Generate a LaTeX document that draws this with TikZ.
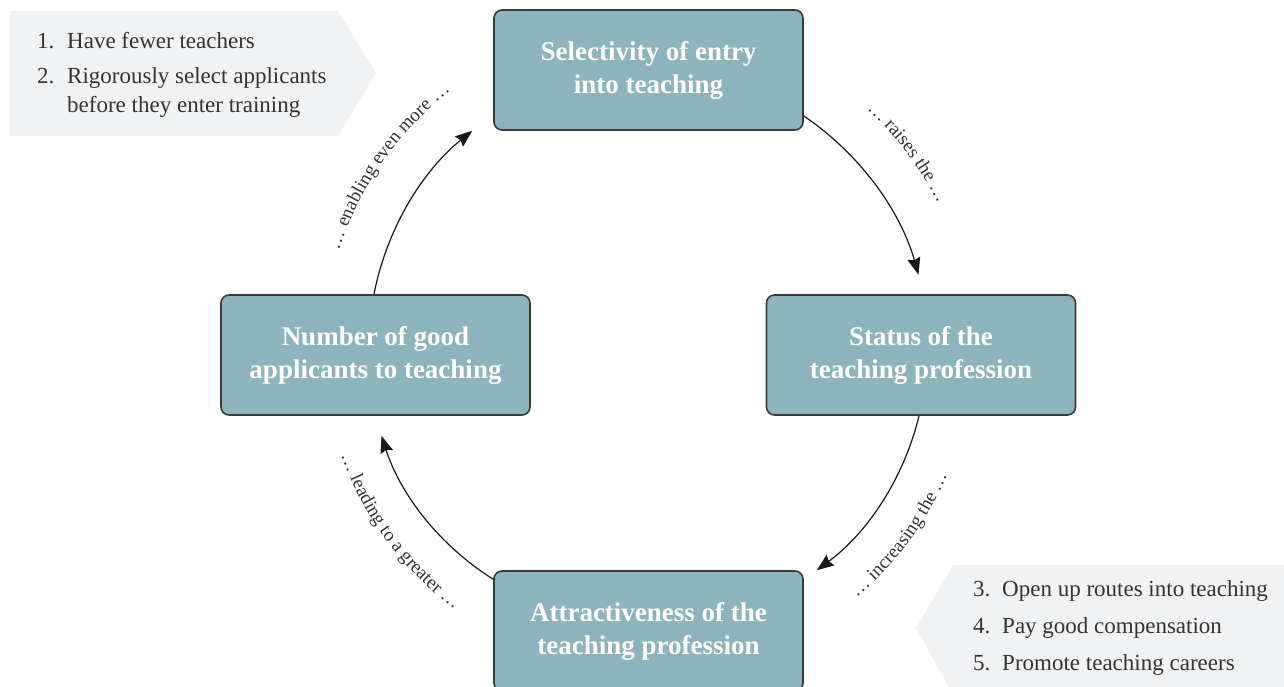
\documentclass[tikz,border=0pt]{standalone}
\usepackage{fontspec}
\setmainfont{Liberation Serif}
\usetikzlibrary{arrows.meta,decorations.text}
\definecolor{boxfill}{HTML}{8DB3BC}
\definecolor{boxline}{HTML}{3A3A3A}
\definecolor{calloutfill}{HTML}{F1F2F4}
\definecolor{txt}{HTML}{333333}
\newcommand\arclabelfont{\fontsize{19}{21}\selectfont}
\begin{document}
\begin{tikzpicture}[x=1pt,y=1pt,
  stagebox/.style={draw=boxline, line width=1.6pt, fill=boxfill, rounded corners=8pt,
    minimum width=309pt, minimum height=120pt, text=white, align=center,
    font=\fontsize{27}{33}\selectfont\bfseries, inner sep=0pt},
  conn/.style={line width=1.2pt, draw=black!90, bend left=20, looseness=0.88,
    -{Stealth[length=17pt,width=13pt,inset=2pt]}},
  calloutshape/.style={fill=calloutfill, draw=none},
  itemtext/.style={anchor=base west, inner sep=0pt, text=txt, font=\fontsize{23}{26}\selectfont},
  arclabel/.style={decorate, decoration={text along path, text align=center, text color=txt}}
]
\useasboundingbox (0,0) rectangle (1284,-687);

% callouts
\path[calloutshape] (10,-11) -- (338,-11) -- (376,-73) -- (338,-136) -- (10,-136) -- cycle;
\path[calloutshape] (953,-565) -- (1290,-565) -- (1290,-695) -- (953,-695) -- (916,-628) -- cycle;

\node[itemtext] (n1) at (37,-49) {1.};
\node[itemtext] (t1) at (67,-49) {Have fewer teachers};
\node[itemtext] (n2) at (37,-84) {2.};
\node[itemtext] (t2) at (67,-84) {Rigorously select applicants};
\node[itemtext] (t2b) at (67,-113) {before they enter training};

\node[itemtext] (n3) at (973,-596) {3.};
\node[itemtext] (t3) at (1002,-596) {Open up routes into teaching};
\node[itemtext] (n4) at (973,-633) {4.};
\node[itemtext] (t4) at (1002,-633) {Pay good compensation};
\node[itemtext] (n5) at (973,-670) {5.};
\node[itemtext] (t5) at (1002,-670) {Promote teaching careers};

% boxes
\node[stagebox] (top) at (648.5,-70) {Selectivity of entry\\into teaching};
\node[stagebox] (right) at (921,-355) {Status of the\\teaching profession};
\node[stagebox] (left) at (375.5,-355) {Number of good\\applicants to teaching};
\node[stagebox] (bottom) at (648.5,-631) {Attractiveness of the\\teaching profession};

% connectors
\draw[conn] ([yshift=-46pt]top.east) to ([xshift=-2.5pt,yshift=19.5pt]right.north);
\draw[conn] ([xshift=-2pt]right.south) to ([xshift=13pt]bottom.north east);
\draw[conn] ([yshift=-9pt]bottom.north west) to ([xshift=6pt,yshift=-20pt]left.south);
\draw[conn] ([xshift=-1.5pt]left.north) to ([xshift=-21pt]top.south west);

% arc labels
\coordinate (C) at (648,-348);
\path[arclabel, decoration={text={|\arclabelfont|… raises the …}}]
  (C) ++(67:324) arc[start angle=67, end angle=7, radius=324];
\path[arclabel, decoration={text={|\arclabelfont|… increasing the …}}]
  (C) ++(-66.5:325) arc[start angle=-66.5, end angle=-6.5, radius=325];
\path[arclabel, decoration={text={|\arclabelfont|… leading to a greater …}}]
  (C) ++(-173.6:325) arc[start angle=-173.6, end angle=-113.6, radius=325];
\path[arclabel, decoration={text={|\arclabelfont|… enabling even more …}}]
  (C) ++(175:324) arc[start angle=175, end angle=115, radius=324];
\end{tikzpicture}
\end{document}
